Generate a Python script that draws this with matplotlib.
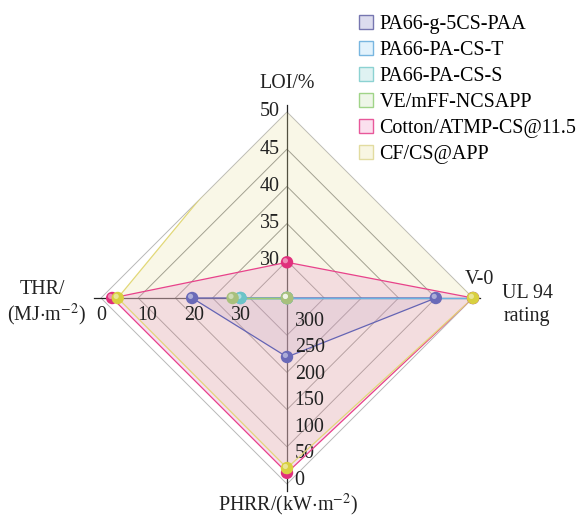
import numpy as np
import matplotlib
matplotlib.use("Agg")
import matplotlib.pyplot as plt
from matplotlib.patches import Polygon, Patch
from matplotlib.transforms import offset_copy

plt.rcParams['font.family'] = ['Liberation Serif', 'DejaVu Serif']
plt.rcParams['mathtext.fontset'] = 'stix'

# ---------------- data ----------------
series = ['PA66-g-5CS-PAA', 'PA66-PA-CS-T', 'PA66-PA-CS-S',
          'VE/mFF-NCSAPP', 'Cotton/ATMP-CS@11.5', 'CF/CS@APP']
loi = [25, 25, 25, 25, 29.8, 52.5]          # LOI / %
ul94 = [4, 5, 0, 0, 5, 5]                    # UL 94 score (5 = V-0)
phrr = [239, 350, 350, 350, 21, 30]          # PHRR / (kW m-2)
thr = [19.6, 30, 30, 28.3, 2.4, 3.6]         # THR / (MJ m-2)

loi_ticks = [30, 35, 40, 45, 50]
phrr_ticks = [0, 50, 100, 150, 200, 250, 300]
thr_ticks = [0, 10, 20, 30]
ul94_ticks = [5]
ul94_ticklabels = ['V-0']

# axis ranges: (value at centre, value at outer ring)
loi_rng = (25, 50)
ul94_rng = (0, 5)
phrr_rng = (350, 0)
thr_rng = (40, 0)

edge_colors = ['#6464b4', '#6ab2e2', '#6cc8cc', '#9ccc74', '#e8428a', '#e2d878']
face_colors = ['#a090d0', '#9cd0f0', '#9cdede', '#c8e6b0', '#e890e0', '#e8e0a0']
face_alpha = [0.22, 0.2, 0.2, 0.2, 0.3, 0.25]
dot_colors = ['#6a6ab8', '#6ab4dc', '#6cc4c8', '#a8c07c', '#e0307c', '#d8d040']
legend_face = ['#dcdcee', '#e2f2fc', '#dff2f2', '#eef6e8', '#fbe0ee', '#f8f6e2']
legend_edge = ['#7676b0', '#78b6e0', '#8cd2d2', '#a0d488', '#e8589a', '#e2dca0']

# ---------------- figure ----------------
W, H = 579, 519
fig = plt.figure(figsize=(W / 100, H / 100), dpi=100)
ax = fig.add_axes([0, 0, 1, 1])
R = 186.0
cx, cy = 287.0, 298.0
ax.set_xlim(-cx / R, (W - cx) / R)
ax.set_ylim(-(H - cy) / R, cy / R)
ax.axis('off')

angles = np.deg2rad([90, 0, 270, 180])   # LOI, UL94, PHRR, THR
ranges = [loi_rng, ul94_rng, phrr_rng, thr_rng]


def norm(v, rng):
    r = (v - rng[0]) / (rng[1] - rng[0])
    return max(r, 0.0)


def to_xy(r, ang):
    return r * np.cos(ang), r * np.sin(ang)


# grid diamonds
for k in range(1, 6):
    rr = k / 5
    pts = [to_xy(rr, a) for a in angles]
    col = '#b8b8b8' if k == 5 else '#8c8c8c'
    ax.add_patch(Polygon(pts, closed=True, fill=False, ec=col, lw=0.7, zorder=1))

# axis lines
for a in angles:
    x1, y1 = to_xy(1.035, a)
    ax.plot([0, x1], [0, y1], color='#222222', lw=0.9, zorder=1.5)

outer = Polygon([to_xy(1.0, a) for a in angles], closed=True, transform=ax.transData,
                fill=False, ec='none')
ax.add_patch(outer)

hl = offset_copy(ax.transData, fig=fig, x=-1.6, y=1.6, units='dots')

for i, name in enumerate(series):
    vals = [loi[i], ul94[i], phrr[i], thr[i]]
    rs = np.array([norm(v, rg) for v, rg in zip(vals, ranges)])
    pts = np.array([to_xy(r, a) for r, a in zip(rs, angles)])
    poly = Polygon(pts, closed=True, fc=face_colors[i], alpha=face_alpha[i],
                   ec='none', zorder=2 + i * 0.1)
    ax.add_patch(poly)
    poly.set_clip_path(outer)
    ln, = ax.plot(np.r_[pts[:, 0], pts[0, 0]], np.r_[pts[:, 1], pts[0, 1]],
                  color=edge_colors[i], lw=0.9, zorder=3 + i * 0.1)
    ln.set_clip_path(outer)
    inside = rs <= 1.0001
    ax.scatter(pts[inside, 0], pts[inside, 1], s=80, color=dot_colors[i],
               edgecolors='none', zorder=4 + i * 0.1, clip_on=False)
    ax.scatter(pts[inside, 0], pts[inside, 1], s=14, color='white', alpha=0.45,
               edgecolors='none', zorder=4.05 + i * 0.1, transform=hl, clip_on=False)

fs = 14.4
# LOI ticks
for v in loi_ticks:
    x, y = to_xy(norm(v, loi_rng), angles[0])
    ax.annotate(str(v), xy=(x, y), xytext=(-5, 0), textcoords='offset points',
                ha='right', va='center', fontsize=fs, color='#222222')
# PHRR ticks
for v in phrr_ticks:
    x, y = to_xy(norm(v, phrr_rng), angles[2])
    ax.annotate(str(v), xy=(x, y), xytext=(5.5, 2.5), textcoords='offset points',
                ha='left', va='center', fontsize=fs, color='#222222')
# THR ticks
for v in thr_ticks:
    x, y = to_xy(norm(v, thr_rng), angles[3])
    ax.annotate(str(v), xy=(x, y), xytext=(0, -12.5), textcoords='offset points',
                ha='center', va='center', fontsize=fs, color='#222222')
# UL94 ticks
for v, lab in zip(ul94_ticks, ul94_ticklabels):
    x, y = to_xy(norm(v, ul94_rng), angles[1])
    ax.annotate(lab, xy=(x, y), xytext=(4.5, 13), textcoords='offset points',
                ha='center', va='center', fontsize=fs, color='#222222')

# axis titles (pixel positions)
def ptext(px, py, s, **kw):
    fig.text(px / W, 1 - py / H, s, fontsize=fs, color='#222222',
             ha='center', va='center', **kw)

ptext(287, 83, 'LOI/%')
ptext(527, 293, 'UL 94')
ptext(527, 317, 'rating')
ptext(288, 505, r'PHRR/(kW$\cdot$m$^{-2}$)')
ptext(42, 290, 'THR/')
ptext(47, 315, r'(MJ$\cdot$m$^{-2}$)')

handles = [Patch(fc=legend_face[i], ec=legend_edge[i], lw=1.0, label=series[i])
           for i in range(len(series))]
fig.legend(handles=handles, loc='upper left', bbox_to_anchor=(359 / W, 1 - 15 / H),
           frameon=False, fontsize=fs, handlelength=0.7, handleheight=0.66,
           handletextpad=0.32, labelspacing=0.35, borderpad=0, borderaxespad=0)

fig.savefig('out.png', dpi=100)
